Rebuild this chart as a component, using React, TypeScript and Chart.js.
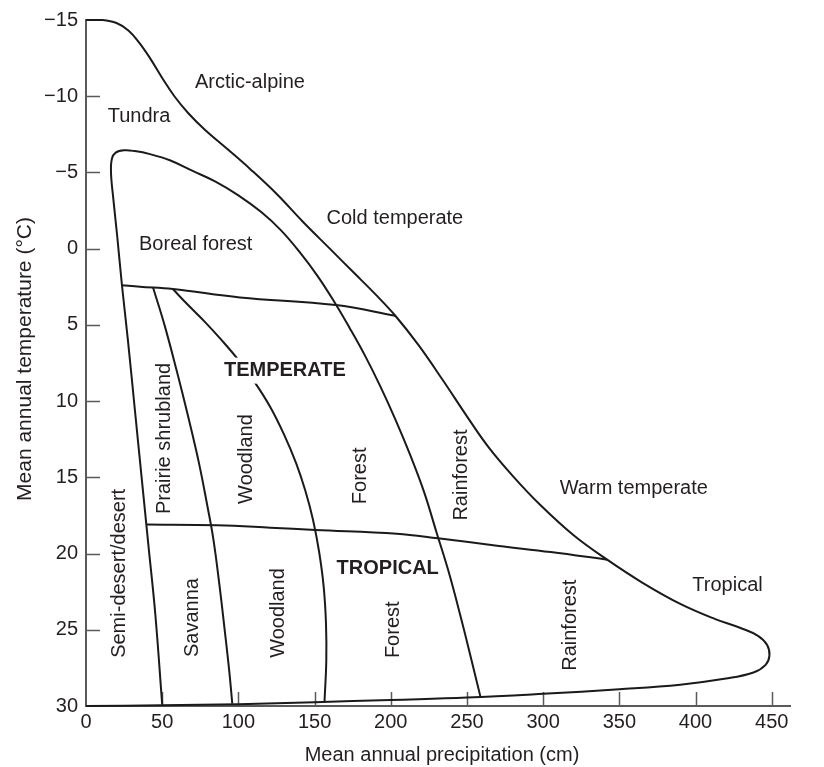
import { useEffect, useRef } from 'react';
import { Chart, registerables } from 'chart.js';

Chart.register(...registerables);

type Pt = [number, number];

const FONT = '"Liberation Sans", Arial, Helvetica, sans-serif';
const INK = '#231f20';
const LINE = '#1a1a1a';
const AXIS = '#5a5a5a';

// Axis ticks: precipitation (cm) and temperature (°C, increasing downward)
const precipTicks = [0, 50, 100, 150, 200, 250, 300, 350, 400, 450];
const tempTicks = [-15, -10, -5, 0, 5, 10, 15, 20, 25, 30];

// Outer envelope: arctic-alpine edge, down to the tropical bulge and back along the base
const outerEnvelope: Pt[] = [
  [0, -15], [10, -15], [20, -14.8], [28, -14.3], [35, -13.5], [42, -12.5], [50, -11.2],
  [58, -10], [67, -8.9], [78, -7.8], [92, -6.6], [108, -5.2], [125, -3.6], [142, -1.8],
  [160, 0], [176, 1.6], [190, 3.0], [203, 4.4], [218, 6.3], [234, 8.6], [250, 11.0],
  [264, 13.0], [280, 14.9], [298, 16.8], [320, 18.8], [342, 20.4], [365, 21.9], [390, 23.3],
  [413, 24.3], [430, 24.9], [441, 25.4], [447, 26.0], [448.5, 26.7], [446, 27.3], [438, 27.8],
  [420, 28.2], [390, 28.6], [350, 28.9], [300, 29.2], [250, 29.45], [200, 29.6], [150, 29.75],
  [100, 29.88], [50, 29.95], [0, 30],
];

// Semi-desert edge rising to the boreal cap, then down as the forest / rainforest divide
const borealArc: Pt[] = [
  [50, 29.9], [45.5, 24], [41, 19.5], [36.5, 15], [32, 10.5], [27.5, 6], [23.6, 2.4],
  [20.5, -0.8], [18, -3.2], [16.4, -5.0], [17, -5.9], [19.5, -6.3], [25, -6.45], [32, -6.4],
  [42, -6.2], [55, -5.8], [70, -5.1], [85, -4.4], [100, -3.5], [115, -2.4], [128, -1.2],
  [140, 0.2], [152, 1.8], [163, 3.5], [173, 5.2], [183, 7.0], [193, 9.0], [203, 11.2],
  [213, 13.6], [222, 16.0], [230, 18.6], [238, 21.2], [246, 24.2], [253, 27], [259, 29.45],
];

// Boreal / temperate divide
const borealDivide: Pt[] = [
  [23.6, 2.4], [35.4, 2.5], [57, 2.65], [101, 3.2], [164, 3.7], [203, 4.4],
];

// Temperate / tropical divide
const tropicalDivide: Pt[] = [
  [39.6, 18.1], [86, 18.15], [121, 18.3], [150.5, 18.45], [204, 18.7], [231, 19.0],
  [271, 19.5], [305, 19.9], [342, 20.4],
];

// Shrubland / woodland and savanna / woodland divide
const shrubDivide: Pt[] = [
  [44, 2.55], [51.5, 5], [59.5, 8], [67, 11], [74, 14], [79.5, 16.8], [83.5, 19],
  [87.5, 22], [91, 25], [94, 27.7], [96, 29.85],
];

// Woodland / forest divide
const woodlandDivide: Pt[] = [
  [57, 2.65], [67, 3.7], [78, 4.8], [89, 6.0], [100, 7.3], [111, 8.8], [121, 10.4],
  [130, 12.2], [138, 14.1], [144, 15.9], [149, 17.8], [153, 19.9], [156, 22.2],
  [157.5, 24.6], [157.7, 27.0], [156.5, 29.75],
];

const boundaryLines = [outerEnvelope, borealArc, borealDivide, tropicalDivide, shrubDivide, woodlandDivide];

// Region names: [text, precipitation, temperature]
const climateLabels: [string, number, number][] = [
  ['Arctic-alpine', 107.6, -10.9],
  ['Tundra', 34.8, -8.7],
  ['Boreal forest', 72, -0.3],
  ['Cold temperate', 202.7, -2.0],
  ['Warm temperate', 359.5, 15.7],
  ['Tropical', 421, 22.1],
];
const zoneHeadings: [string, number, number][] = [
  ['TEMPERATE', 130.5, 8.0],
  ['TROPICAL', 198, 20.95],
];
const biomeLabels: [string, number, number][] = [
  ['Semi-desert/desert', 22.3, 21.3],
  ['Prairie shrubland', 51.8, 12.45],
  ['Woodland', 105.6, 13.8],
  ['Forest', 180.4, 14.9],
  ['Rainforest', 246.7, 14.85],
  ['Savanna', 70.2, 24.2],
  ['Woodland', 126.6, 23.9],
  ['Forest', 202, 25.0],
  ['Rainforest', 318, 24.7],
];

const xTitle = 'Mean annual precipitation (cm)';
const yTitle = 'Mean annual temperature (\u00b0C)';

const fmtTemp = (v: number) => (v < 0 ? '\u2212' + Math.abs(v) : String(v));

const inwardTicks = {
  id: 'inwardTicks',
  beforeDatasetsDraw(chart: any) {
    const { ctx, chartArea: a, scales } = chart;
    const x = scales.x;
    const y = scales.y;
    ctx.save();
    ctx.strokeStyle = AXIS;
    ctx.lineWidth = 1.5;
    ctx.beginPath();
    precipTicks.forEach((v) => {
      if (v === 0) return;
      const px = Math.round(x.getPixelForValue(v)) + 0.5;
      ctx.moveTo(px, a.bottom);
      ctx.lineTo(px, a.bottom - 14);
    });
    tempTicks.forEach((v) => {
      if (v === -15 || v === 30) return;
      const py = Math.round(y.getPixelForValue(v)) + 0.5;
      ctx.moveTo(a.left, py);
      ctx.lineTo(a.left + 14, py);
    });
    ctx.stroke();
    ctx.restore();
  },
};

const regionText = {
  id: 'regionText',
  afterDatasetsDraw(chart: any) {
    const { ctx, scales } = chart;
    const x = scales.x;
    const y = scales.y;
    ctx.save();
    ctx.fillStyle = INK;
    ctx.textAlign = 'center';
    ctx.textBaseline = 'middle';

    ctx.font = `20px ${FONT}`;
    climateLabels.forEach(([t, p, c]) => {
      ctx.fillText(t, x.getPixelForValue(p), y.getPixelForValue(c));
    });

    ctx.font = `bold 20px ${FONT}`;
    zoneHeadings.forEach(([t, p, c]) => {
      const px = x.getPixelForValue(p);
      const py = y.getPixelForValue(c);
      const w = ctx.measureText(t).width;
      ctx.fillStyle = '#ffffff';
      ctx.fillRect(px - w / 2 - 4, py - 13, w + 8, 26);
      ctx.fillStyle = INK;
      ctx.fillText(t, px, py);
    });

    ctx.font = `20px ${FONT}`;
    biomeLabels.forEach(([t, p, c]) => {
      ctx.save();
      ctx.translate(x.getPixelForValue(p), y.getPixelForValue(c));
      ctx.rotate(-Math.PI / 2);
      ctx.fillText(t, 0, 0);
      ctx.restore();
    });
    ctx.restore();
  },
};

const axisTitles = {
  id: 'axisTitles',
  afterDraw(chart: any) {
    const { ctx, chartArea: a } = chart;
    ctx.save();
    ctx.fillStyle = INK;
    ctx.textAlign = 'center';
    ctx.textBaseline = 'middle';
    ctx.font = `20px ${FONT}`;
    ctx.fillText(xTitle, (a.left + a.right) / 2 + 4, a.bottom + 49);
    ctx.font = `21px ${FONT}`;
    ctx.translate(25, (a.top + a.bottom) / 2 - 4);
    ctx.rotate(-Math.PI / 2);
    ctx.fillText(yTitle, 0, 0);
    ctx.restore();
  },
};

export default function App() {
  const canvasRef = useRef<HTMLCanvasElement | null>(null);

  useEffect(() => {
    const canvas = canvasRef.current;
    if (!canvas) return;
    const chart = new Chart(canvas, {
      type: 'scatter',
      data: {
        datasets: boundaryLines.map((pts) => ({
          data: pts.map(([p, t]) => ({ x: p, y: t })),
          showLine: true,
          borderColor: LINE,
          borderWidth: 2,
          pointRadius: 0,
          pointHoverRadius: 0,
          tension: 0.4,
          fill: false,
          clip: false,
        })),
      },
      options: {
        animation: false,
        responsive: false,
        events: [],
        layout: { padding: { top: 13, right: 34, left: 0, bottom: 0 } },
        plugins: {
          legend: { display: false },
          tooltip: { enabled: false },
          title: { display: false },
        },
        scales: {
          x: {
            type: 'linear',
            min: 0,
            max: 462,
            afterBuildTicks: (s: any) => {
              s.ticks = precipTicks.map((v) => ({ value: v }));
            },
            afterFit: (s: any) => {
              s.height = 61;
            },
            grid: { display: false, drawTicks: false },
            border: { display: true, color: AXIS, width: 2 },
            ticks: {
              color: INK,
              font: { family: FONT, size: 20 },
              padding: 4,
              maxRotation: 0,
              autoSkip: false,
            },
            title: { display: false },
          },
          y: {
            type: 'linear',
            reverse: true,
            min: -15,
            max: 30,
            afterBuildTicks: (s: any) => {
              s.ticks = tempTicks.map((v) => ({ value: v }));
            },
            afterFit: (s: any) => {
              s.width = 86;
            },
            grid: { display: false, drawTicks: false },
            border: { display: true, color: AXIS, width: 2 },
            ticks: {
              color: INK,
              font: { family: FONT, size: 20 },
              padding: 8,
              autoSkip: false,
              callback: (v: any) => fmtTemp(Number(v)),
            },
            title: { display: false },
          },
        },
      },
      plugins: [inwardTicks, regionText, axisTitles],
    } as any);
    return () => chart.destroy();
  }, []);

  return (
    <div style={{ position: 'fixed', left: 0, top: 0, width: 824, height: 767, background: '#fff' }}>
      <canvas ref={canvasRef} width={824} height={767} style={{ display: 'block' }} />
    </div>
  );
}
